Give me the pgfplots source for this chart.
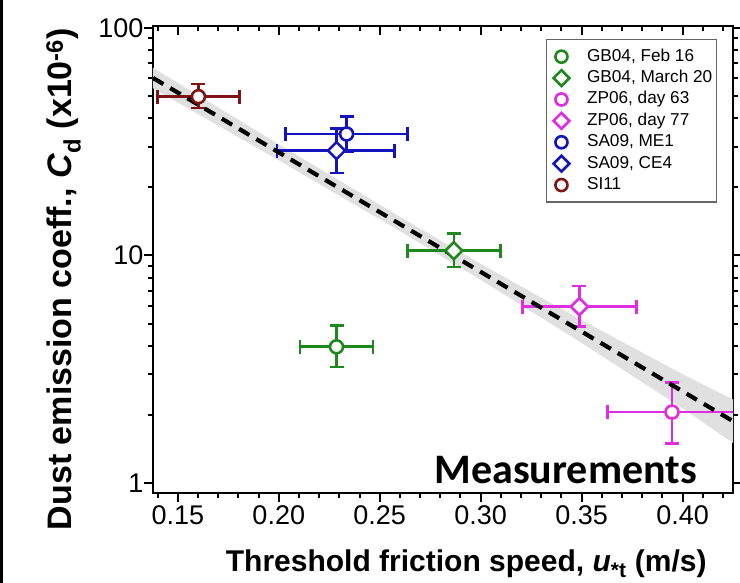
\documentclass[border=0pt]{standalone}
\usepackage{fontspec}
\setmainfont{Liberation Sans}
\newfontfamily\measfont{Carlito}
\usepackage{pgfplots}
\pgfplotsset{compat=1.18}
\definecolor{cgreen}{RGB}{30,135,30}
\definecolor{cmag}{RGB}{225,45,225}
\definecolor{cblue}{RGB}{20,20,190}
\definecolor{cbrown}{RGB}{128,20,20}
\definecolor{cband}{RGB}{224,224,224}
\pgfdeclareplotmark{rdiam}{%
  \pgfpathmoveto{\pgfqpoint{0pt}{\pgfplotmarksize}}%
  \pgfpathlineto{\pgfqpoint{\pgfplotmarksize}{0pt}}%
  \pgfpathlineto{\pgfqpoint{0pt}{-\pgfplotmarksize}}%
  \pgfpathlineto{\pgfqpoint{-\pgfplotmarksize}{0pt}}%
  \pgfpathclose\pgfusepathqfillstroke}
\pgfplotsset{
  ser/.style={only marks, color=#1,
    mark options={fill=white, draw=#1, line width=2.6pt},
    error bars/x dir=both, error bars/x explicit,
    error bars/y dir=both, error bars/y explicit,
    error bars/error mark=-,
    error bars/error bar style={line width=2.6pt, color=#1},
    error bars/error mark options={rotate=90, line width=2.6pt, mark size=7pt, color=#1}},
  circ/.style={mark=*, mark size=6.5pt},
  diam/.style={mark=rdiam, mark size=8.5pt},
}
\begin{document}
\begin{tikzpicture}
\useasboundingbox (0,0) rectangle (740pt,583pt);
\fill[black] (0,0) rectangle (2.5pt,583pt);
\begin{axis}[
  at={(153pt,90pt)}, anchor=south west,
  width=580pt, height=467pt, scale only axis,
  xmin=0.1377, xmax=0.425,
  ymode=log, ymin=0.904, ymax=102,
  axis line style={line width=2pt, black},
  xtick={0.15,0.20,0.25,0.30,0.35,0.40},
  xticklabels={0.15,0.20,0.25,0.30,0.35,0.40},
  minor xtick={0.14,0.16,0.17,0.18,0.19,0.21,0.22,0.23,0.24,0.26,0.27,0.28,0.29,0.31,0.32,0.33,0.34,0.36,0.37,0.38,0.39,0.41,0.42},
  ytick={1,10,100}, yticklabels={1,10,100},
  minor ytick={2,3,4,5,6,7,8,9,20,30,40,50,60,70,80,90},
  tick align=outside,
  xtick pos=left, ytick pos=both,
  major tick length=9pt, minor tick length=5pt,
  tick style={line width=2pt, black},
  /pgf/number format/assume math mode=true,
  ticklabel style={font=\fontsize{27}{27}\selectfont},
  yticklabel style={xshift=3pt},
  xlabel={\bfseries Threshold friction speed, \textit{u}\textsubscript{*t} (m/s)},
  xlabel style={font=\fontsize{30}{30}\selectfont, at={(axis description cs:0.54,-0.168)}, anchor=base, inner sep=0pt},
  ylabel={\bfseries Dust emission coeff., \textit{C}\textsubscript{d} (x10\textsuperscript{-6})},
  ylabel style={font=\fontsize{34}{34}\selectfont, at={(axis description cs:-0.124,0.458)}, anchor=south, inner sep=0pt},
  legend style={at={(rel axis cs:0.678,0.972)}, anchor=north west,
    draw=black!60, line width=1.2pt, font=\fontsize{17.2}{21}\selectfont,
    inner xsep=2pt, inner ysep=6.5pt, row sep=0.4pt,
    nodes={inner sep=2pt, text height=13pt, text depth=4pt}},
  legend image code/.code={%
    \path (0pt,0pt) (35pt,0pt);
    \draw[#1, every mark/.append style={scale=0.93}] plot coordinates {(12pt,0pt)};},
  legend cell align=left,
  clip=true,
]
% confidence band
\addplot[fill=cband, draw=none, forget plot] coordinates {
  (0.1377,66.8) (0.20,30.8) (0.26,14.8) (0.30,9.19) (0.35,5.20) (0.40,3.01) (0.425,2.33)
  (0.425,1.50) (0.40,2.13) (0.35,4.13) (0.30,7.82) (0.26,12.8) (0.20,26.2) (0.1377,54.3)
} -- cycle;
% data
\addplot[ser=cgreen, circ] coordinates {(0.2286,3.97) += (0.018,0.94) -= (0.018,0.74)};
\addlegendentry{GB04, Feb 16}
\addplot[ser=cgreen, diam] coordinates {(0.2867,10.5) += (0.023,2.0) -= (0.023,1.6)};
\addlegendentry{GB04, March 20}
\addplot[ser=cmag, circ] coordinates {(0.3948,2.05) += (0.032,0.72) -= (0.032,0.56)};
\addlegendentry{ZP06, day 63}
\addplot[ser=cmag, diam] coordinates {(0.3489,5.96) += (0.0282,1.38) -= (0.0281,1.10)};
\addlegendentry{ZP06, day 77}
\addplot[ser=cblue, circ] coordinates {(0.2336,34.2) += (0.0302,6.5) -= (0.0302,5.5)};
\addlegendentry{SA09, ME1}
\addplot[ser=cblue, diam] coordinates {(0.2286,28.9) += (0.0288,7.3) -= (0.0295,5.9)};
\addlegendentry{SA09, CE4}
\addplot[ser=cbrown, circ] coordinates {(0.1602,49.9) += (0.0204,6.7) -= (0.0203,5.5)};
\addlegendentry{SI11}
% fit line
\addplot[black, line width=4.2pt, dash pattern=on 12pt off 8pt, forget plot] coordinates {(0.1377,60.3) (0.425,1.87)};
\node[anchor=base east, inner sep=0pt] at (rel axis cs:0.938,0.0214) {\measfont\bfseries\fontsize{42}{42}\selectfont Measurements};
\end{axis}
\begin{axis}[
  at={(153pt,90pt)}, anchor=south west,
  width=580pt, height=467pt, scale only axis,
  xmin=0.1377, xmax=0.425, ymin=0, ymax=1,
  axis x line*=top, axis y line=none,
  axis line style={line width=2pt, black},
  xtick={0.15,0.20,0.25,0.30,0.35,0.40}, xticklabels={},
  minor xtick={0.14,0.16,0.17,0.18,0.19,0.21,0.22,0.23,0.24,0.26,0.27,0.28,0.29,0.31,0.32,0.33,0.34,0.36,0.37,0.38,0.39,0.41,0.42},
  tick align=inside,
  major tick length=9pt, minor tick length=5pt,
  tick style={line width=2pt, black},
]
\end{axis}
\end{tikzpicture}
\end{document}
